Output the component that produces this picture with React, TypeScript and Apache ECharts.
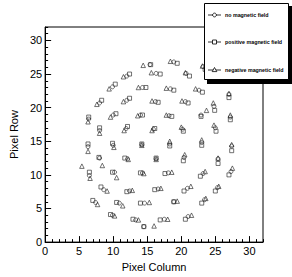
import React, { useEffect, useRef } from "react";
import * as echarts from "echarts";

const seriesNames = ["no magnetic field", "positive magnetic field", "negative magnetic field"];

const noField: [number, number][] = [
  [15.4, 26.4], [18.9, 26.8], [23.2, 26.1], [12.0, 24.7], [16.3, 25.1], [20.7, 25.1],
  [9.9, 23.1], [14.3, 23.0], [18.4, 22.8], [22.6, 22.6], [27.0, 22.0],
  [8.0, 20.7], [12.0, 21.1], [16.2, 20.9], [20.6, 20.9], [24.8, 20.2],
  [6.4, 18.3], [10.0, 18.9], [14.0, 18.9], [18.2, 18.8], [22.9, 18.9], [27.2, 18.6],
  [8.0, 16.6], [11.9, 16.9], [15.9, 16.8], [20.2, 16.8], [25.0, 17.0],
  [6.3, 14.2], [10.0, 14.4], [14.2, 14.5], [18.3, 14.6], [23.0, 14.8], [27.4, 14.3],
  [8.0, 12.5], [12.1, 12.4], [16.3, 12.4], [20.4, 12.6], [25.4, 12.4],
  [6.5, 9.9], [10.2, 10.4], [14.3, 10.3], [18.1, 10.3], [23.2, 10.2], [27.3, 10.5],
  [8.6, 7.8], [12.4, 7.6], [16.6, 7.9], [20.9, 8.0], [25.3, 8.1],
  [7.4, 5.9], [10.9, 5.8], [14.6, 5.8], [18.9, 6.0], [23.4, 6.3],
  [9.9, 4.0], [13.3, 3.3], [17.5, 3.4], [21.0, 3.8], [14.5, 2.3],
];

const positiveField: [number, number][] = [
  [15.5, 26.4], [19.4, 26.6], [23.5, 25.7], [12.4, 25.0], [16.9, 25.0], [21.2, 24.7],
  [10.3, 23.5], [14.8, 23.0], [18.9, 22.6], [23.1, 22.3], [27.0, 21.5],
  [8.3, 21.1], [12.4, 21.4], [16.6, 20.8], [21.0, 20.7], [24.9, 19.6],
  [6.4, 18.6], [10.4, 19.1], [14.3, 18.9], [18.6, 18.7], [22.9, 18.7], [27.2, 18.2],
  [8.0, 17.0], [12.1, 17.2], [16.1, 16.9], [20.3, 16.5], [25.1, 16.5],
  [6.3, 14.6], [9.9, 14.7], [14.2, 14.6], [18.3, 14.3], [23.0, 14.4], [27.4, 13.6],
  [7.9, 12.6], [11.7, 12.5], [16.3, 12.5], [20.3, 12.1], [25.4, 11.7],
  [6.5, 10.4], [9.9, 10.4], [14.0, 10.3], [17.6, 10.2], [22.8, 9.8], [27.0, 10.0],
  [8.2, 8.2], [12.0, 7.5], [16.1, 7.8], [20.4, 7.6], [25.0, 7.6],
  [7.0, 6.2], [10.5, 5.9], [14.0, 5.8], [18.9, 6.0], [23.0, 5.8],
  [9.6, 4.1], [12.9, 3.4], [16.9, 3.3], [20.6, 3.4], [14.5, 2.3],
];

const negativeField: [number, number][] = [
  [14.4, 26.3], [18.4, 26.9], [23.1, 26.2], [11.5, 24.6], [15.6, 25.2], [20.6, 25.2],
  [9.4, 22.8], [13.7, 23.0], [17.8, 22.9], [22.1, 22.8], [27.0, 22.1],
  [7.6, 20.5], [11.5, 20.9], [15.7, 21.0], [20.1, 21.0], [24.7, 20.7],
  [6.3, 17.9], [9.6, 18.6], [13.6, 18.8], [17.8, 18.9], [23.7, 19.6], [27.2, 18.9],
  [8.0, 16.2], [11.6, 16.6], [15.7, 16.6], [20.0, 17.1], [24.8, 17.4],
  [6.3, 13.5], [10.1, 14.1], [14.2, 14.4], [18.3, 15.0], [23.0, 15.2], [27.4, 14.5],
  [5.4, 11.3], [8.4, 11.4], [12.2, 12.3], [16.3, 12.3], [20.5, 13.0], [25.4, 12.5],
  [6.6, 9.5], [10.5, 9.6], [14.5, 10.2], [18.6, 10.4], [23.5, 10.5], [27.5, 11.0],
  [9.1, 7.6], [12.8, 7.7], [17.0, 8.0], [21.4, 8.3], [25.5, 8.3],
  [7.7, 5.6], [11.4, 5.4], [15.3, 5.9], [19.4, 6.1], [23.6, 6.5],
  [10.2, 3.9], [13.7, 3.3], [18.0, 3.4], [21.5, 4.0], [16.0, 2.4],
];

const axisMin = 0;
const axisMax = 32;
const majorStep = 5;
const minorStep = 1;

const FONT = "Liberation Sans";
const INK = "#000";

export default function App() {
  const ref = useRef<HTMLDivElement>(null);
  useEffect(() => {
    const chart = echarts.init(ref.current!, null, { renderer: "svg" });

    const majorAxis = (name: string, pos: string, nameGap: number) => ({
      type: "value",
      min: axisMin,
      max: axisMax,
      interval: majorStep,
      position: pos,
      name,
      nameLocation: "middle",
      nameGap,
      nameTextStyle: { fontFamily: FONT, fontSize: 11, color: INK },
      axisLine: { show: true, onZero: false, lineStyle: { color: INK, width: 1 } },
      axisTick: { show: true, inside: true, length: 6, lineStyle: { color: INK, width: 1 } },
      axisLabel: { fontFamily: FONT, fontSize: 11, color: INK, margin: 3, showMaxLabel: false },
      splitLine: { show: false },
    });
    const minorAxis = (pos: string) => ({
      type: "value",
      min: axisMin,
      max: axisMax,
      interval: minorStep,
      position: pos,
      axisLine: { show: false, onZero: false },
      axisTick: { show: true, inside: true, length: 3, lineStyle: { color: INK, width: 1 } },
      axisLabel: { show: false },
      splitLine: { show: false },
    });

    const markerStyle = { color: "transparent", borderColor: "#222", borderWidth: 0.8 };
    const symbols = ["circle", "rect", "triangle"];
    const sizes = [4, 4, 4.5];
    const datasets = [noField, positiveField, negativeField];

    const legendY = [15, 42, 70];
    const lx = 214.5;
    const legendGraphics: any[] = [
      { type: "rect", z: 100, shape: { x: 207, y: 6, width: 85, height: 78 }, style: { fill: "#000" } },
      { type: "rect", z: 101, shape: { x: 204.5, y: 3.5, width: 84, height: 76 }, style: { fill: "#fff", stroke: INK, lineWidth: 1 } },
    ];
    legendY.forEach((y, i) => {
      legendGraphics.push({ type: "line", z: 102, shape: { x1: 208, y1: y, x2: 221, y2: y }, style: { stroke: INK, lineWidth: 0.8 } });
      if (i === 0) {
        legendGraphics.push({ type: "circle", z: 103, shape: { cx: lx, cy: y, r: 1.9 }, style: { fill: "#fff", stroke: INK, lineWidth: 0.8 } });
      } else if (i === 1) {
        legendGraphics.push({ type: "rect", z: 103, shape: { x: lx - 2, y: y - 2, width: 4, height: 4 }, style: { fill: "#fff", stroke: INK, lineWidth: 0.8 } });
      } else {
        legendGraphics.push({ type: "polygon", z: 103, shape: { points: [[lx, y - 2.5], [lx - 2.3, y + 1.6], [lx + 2.3, y + 1.6]] }, style: { fill: "#fff", stroke: INK, lineWidth: 0.8 } });
      }
      legendGraphics.push({
        type: "text", z: 103, x: 225, y,
        style: { text: seriesNames[i], fontFamily: FONT, fontSize: 5.3, fontWeight: "bold", fill: INK, verticalAlign: "middle" },
      });
    });

    chart.setOption({
      animation: false,
      grid: { left: 29, top: 27, width: 234, height: 220, show: true, borderColor: INK, borderWidth: 1, backgroundColor: "transparent", containLabel: false },
      xAxis: [majorAxis("Pixel Column", "bottom", 16), minorAxis("bottom")],
      yAxis: [majorAxis("Pixel Row", "left", 18), minorAxis("left")],
      series: datasets.map((d, i) => ({
        type: "scatter",
        name: seriesNames[i],
        xAxisIndex: 0,
        yAxisIndex: 0,
        data: d,
        symbol: symbols[i],
        symbolSize: sizes[i],
        itemStyle: markerStyle,
        emphasis: { disabled: true },
      })),
      graphic: legendGraphics,
    });
    return () => chart.dispose();
  }, []);
  return <div ref={ref} style={{ position: "fixed", left: 0, top: 0, width: 292, height: 277, background: "#fff" }} />;
}
